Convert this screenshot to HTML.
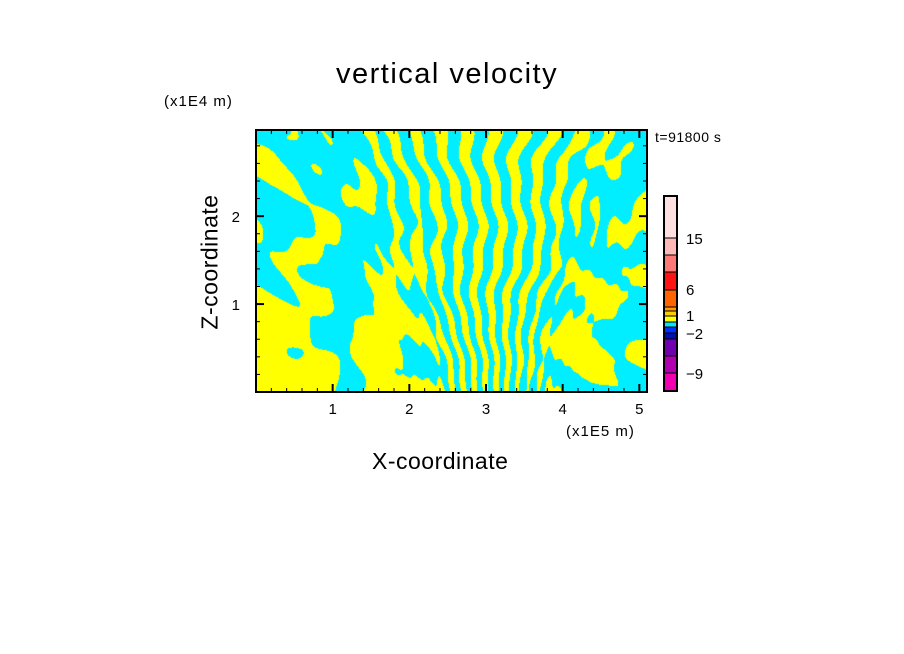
<!DOCTYPE html>
<html><head><meta charset="utf-8"><style>
html,body{margin:0;padding:0;background:#fff;}
#wrap{position:relative;width:904px;height:654px;overflow:hidden;font-family:"Liberation Sans",sans-serif;color:#000;}
.t{position:absolute;white-space:nowrap;}
</style></head><body>
<div id="wrap">
<div class="t" style="left:336px;top:58px;font-size:29px;letter-spacing:1.5px;">vertical velocity</div>
<div class="t" style="left:164px;top:93px;font-size:15px;letter-spacing:1px;">(x1E4 m)</div>
<div class="t" style="left:655px;top:129px;font-size:14px;letter-spacing:0.5px;">t=91800 s</div>
<div class="t" style="left:566px;top:423px;font-size:15px;letter-spacing:1px;">(x1E5 m)</div>
<div class="t" style="left:372px;top:448px;font-size:23px;letter-spacing:0.5px;">X-coordinate</div>
<div class="t" style="left:210px;top:262px;font-size:23px;letter-spacing:0.5px;transform:translate(-50%,-50%) rotate(-90deg);">Z-coordinate</div>
<canvas id="field" width="391" height="262" style="position:absolute;left:256px;top:130px;"></canvas>
<svg id="ov" width="904" height="654" style="position:absolute;left:0;top:0;"></svg>
</div>
<script>
const xTicks=[1,2,3,4,5];
const zTicks=[1,2];
const cbLevels=["15","6","1","\u22122","\u22129"];
const cbColors=["#ffe0e0","#ffb8b8","#ff7878","#ff1414","#ff6400","#ff9a00","#ffcc00","#ffff00","#00e8ff","#0030ff","#0010b0","#7000b0","#b000b0","#f000b0"];
const cbBounds=[196,238,255,272,290,307,311,316,322,327,333,339,356,373,391];

const X0=256,X1=647,Y0=130,Y1=392;
const xmax=5.1,zmax=2.98;
const sx=v=>X0+(v/xmax)*(X1-X0);
const sz=v=>Y1-(v/zmax)*(Y1-Y0);

const cv=document.getElementById('field');const ctx=cv.getContext('2d');
const W=cv.width,H=cv.height;const img=ctx.createImageData(W,H);
function f(px,py){
  const x=px/W, z=1-py/H;
  const u=x-0.6;
  const spread=0.4+z*0.6;
  const ph=u/spread;
  const v=Math.sin(ph*95+Math.sin(z*11+x*7)*1.8+Math.sin(z*37)*0.6);
  const cw=Math.exp(-Math.pow(u/(0.12+z*0.22),2));
  let b=Math.sin(x*30+Math.sin(z*16+x*6)*2.2+z*6)*0.6
       +Math.sin(z*24-x*10+Math.sin(x*15)*1.5)*0.5
       +Math.sin(x*60+z*35)*0.25-0.25;
  let val=cw*v+(1-cw)*b;
  const lb=Math.exp(-Math.pow((x-0.1)/0.13,2)-Math.pow(z/0.33,2));
  const lb2=Math.exp(-Math.pow((x-0.33)/0.07,2)-Math.pow(z/0.38,2));
  const cgap=Math.exp(-Math.pow((x-0.23)/0.035,2)-Math.pow(z/0.5,2));
  const rb=Math.exp(-Math.pow((x-0.85)/0.06,2)-Math.pow(z/0.35,2));
  val+=1.5*lb+1.3*lb2-1.2*cgap+0.7*rb;
  return val;
}
for(let j=0;j<H;j++)for(let i=0;i<W;i++){
  const v=f(i,j);const k=(j*W+i)*4;
  if(v>0){img.data[k]=255;img.data[k+1]=255;img.data[k+2]=0;}
  else{img.data[k]=0;img.data[k+1]=238;img.data[k+2]=255;}
  img.data[k+3]=255;
}
ctx.putImageData(img,0,0);

const NS='http://www.w3.org/2000/svg';const ov=document.getElementById('ov');
function el(t,a){const e=document.createElementNS(NS,t);for(const k in a)e.setAttribute(k,a[k]);ov.appendChild(e);return e;}
let r=el('rect',{x:X0,y:Y0,width:X1-X0,height:Y1-Y0,fill:'none',stroke:'#000','stroke-width':2});


for(let v=0.2;v<xmax;v+=0.2){const x=sx(v);const major=Math.abs(v-Math.round(v))<1e-6;const L=major?8:4;
  let a=el('line',{x1:x,x2:x,y1:Y1,y2:Y1-L,stroke:'#000','stroke-width':major?2:1});
  
  
  let b=el('line',{x1:x,x2:x,y1:Y0,y2:Y0+L,stroke:'#000','stroke-width':major?2:1});
  
  }
for(let v=0.2;v<zmax;v+=0.2){const y=sz(v);const major=Math.abs(v-Math.round(v))<1e-6;const L=major?8:4;
  let a=el('line',{x1:X0,x2:X0+L,y1:y,y2:y,stroke:'#000','stroke-width':major?2:1});
  
  
  let b=el('line',{x1:X1,x2:X1-L,y1:y,y2:y,stroke:'#000','stroke-width':major?2:1});
  
  }
xTicks.forEach(v=>{const t=el('text',{x:sx(v),y:Y1+22,'font-size':15,'text-anchor':'middle','font-family':'Liberation Sans'});t.textContent=v;
  
  });
zTicks.forEach(v=>{const t=el('text',{x:X0-16,y:sz(v)+6,'font-size':15,'text-anchor':'end','font-family':'Liberation Sans'});t.textContent=v;
  
  });
for(let i=0;i<cbColors.length;i++){const s=el('rect',{x:664,y:cbBounds[i],width:13,height:cbBounds[i+1]-cbBounds[i],fill:cbColors[i],stroke:'#000','stroke-width':1});
  
  }
let cf=el('rect',{x:664,y:196,width:13,height:195,fill:'none',stroke:'#000','stroke-width':2});


const cbLabelY=[238,289,315,333,373];
cbLevels.forEach((s,i)=>{const t=el('text',{x:686,y:cbLabelY[i]+6,'font-size':15,'font-family':'Liberation Sans'});t.textContent=s;
  
  });
</script>
</body></html>
